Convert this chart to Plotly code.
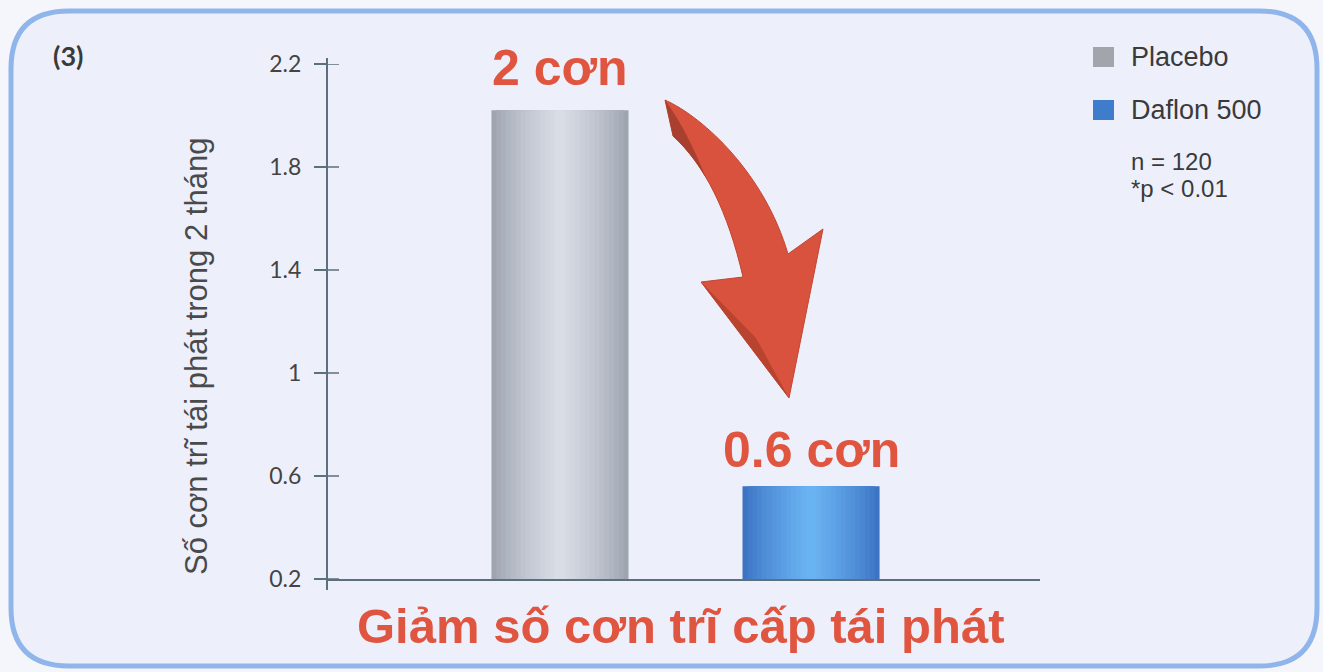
import plotly.graph_objects as go

# ---- data ----
categories = ["Placebo", "Daflon 500"]
values = [2.02, 0.56]
value_labels = ["2 cơn", "0.6 cơn"]
y_ticks = [0.2, 0.6, 1, 1.4, 1.8, 2.2]
y_title = "Số cơn trĩ tái phát trong 2 tháng"
x_title = "Giảm số cơn trĩ cấp tái phát"
panel_label = "(3)"
notes = ["n = 120", "*p < 0.01"]

W, H = 1323, 672
L, R, T, B = 327, 1040, 64, 579  # plot area in pixels

def px(x):
    return (x - L) / (R - L)

def py(y):
    return (B - y) / (B - T)

def hexmix(c1, c2, t):
    a = [int(c1[i:i + 2], 16) for i in (1, 3, 5)]
    b = [int(c2[i:i + 2], 16) for i in (1, 3, 5)]
    return "#" + "".join(f"{round(a[k] + (b[k] - a[k]) * t):02x}" for k in range(3))

edge_cols = ["#9ea4b0", "#3c73c3"]
center_cols = ["#d9dde6", "#6ab3f2"]
legend_cols = ["#a2a6ac", "#3f7ccb"]
red = "#e0553f"
label_shift = [12, 6]

fig = go.Figure()
bar_w = 0.546
n_layers = 14
for k in range(n_layers):
    t = k / (n_layers - 1)
    w = bar_w * (1 - t * 0.92)
    for i, cat in enumerate(categories):
        fig.add_trace(go.Bar(
            x=[i], y=[values[i] - 0.2], base=0.2, width=w,
            marker=dict(color=hexmix(edge_cols[i], center_cols[i], t ** 0.8), line=dict(width=0)),
            showlegend=False, hoverinfo="skip", name=cat,
        ))

shapes = []

def rrect(x0, y0, x1, y1, r):
    return (f"M {px(x0+r)},{py(y0)} L {px(x1-r)},{py(y0)} "
            f"Q {px(x1)},{py(y0)} {px(x1)},{py(y0+r)} L {px(x1)},{py(y1-r)} "
            f"Q {px(x1)},{py(y1)} {px(x1-r)},{py(y1)} L {px(x0+r)},{py(y1)} "
            f"Q {px(x0)},{py(y1)} {px(x0)},{py(y1-r)} L {px(x0)},{py(y0+r)} "
            f"Q {px(x0)},{py(y0)} {px(x0+r)},{py(y0)} Z")

shapes.append(dict(type="path", xref="paper", yref="paper", path=rrect(11, 11, 1317, 666, 58),
                   fillcolor="#edf0fb", line=dict(color="#8fb5ea", width=5), layer="below"))

axis_col = "#5b6f7c"
shapes.append(dict(type="line", xref="paper", yref="paper", x0=px(327), x1=px(327), y0=py(58), y1=py(590),
                   line=dict(color=axis_col, width=2)))
for v in y_ticks:
    shapes.append(dict(type="line", xref="paper", yref="y", x0=px(327), x1=px(339), y0=v, y1=v,
                       line=dict(color=axis_col, width=1.5)))

def P(x, y):
    return f"{px(x)},{py(y)}"

arrow = (f"M {P(665,100)} C {P(705,118)} {P(765,175)} {P(788,254)} L {P(823,229)} L {P(789,398)} "
         f"L {P(701,282)} L {P(743,277)} C {P(728,212)} {P(705,165)} {P(673,136)} Z")
shapes.append(dict(type="path", xref="paper", yref="paper", path=arrow,
                   fillcolor="#d9523d", line=dict(color="#c04632", width=1)))
face1 = f"M {P(665,100)} L {P(673,136)} C {P(690,152)} {P(700,168)} {P(706,178)} C {P(695,150)} {P(680,120)} {P(665,100)} Z"
shapes.append(dict(type="path", xref="paper", yref="paper", path=face1,
                   fillcolor="#a9402f", line=dict(width=0)))
face2 = f"M {P(701,282)} L {P(789,398)} L {P(756,338)} Z"
shapes.append(dict(type="path", xref="paper", yref="paper", path=face2,
                   fillcolor="#b8432f", line=dict(width=0)))

for i, cat in enumerate(categories):
    yc = 57 + 53 * i
    shapes.append(dict(type="rect", xref="paper", yref="paper", x0=px(1093), x1=px(1114),
                       y0=py(yc - 10), y1=py(yc + 10), fillcolor=legend_cols[i], line=dict(width=0)))

annotations = []
txt_font = "Liberation Sans, Arial"
for i, cat in enumerate(categories):
    annotations.append(dict(x=px(1129), y=py(57 + 53 * i), xref="paper", yref="paper", text=cat,
                            showarrow=False, xanchor="left", yanchor="middle",
                            font=dict(family=txt_font, size=27, color="#3a3a3a")))
for j, note in enumerate(notes):
    annotations.append(dict(x=px(1129), y=py(161 + 27 * j), xref="paper", yref="paper", text=note,
                            showarrow=False, xanchor="left", yanchor="middle",
                            font=dict(family=txt_font, size=24, color="#3a3a3a")))
annotations.append(dict(x=px(68), y=py(56), xref="paper", yref="paper", text=f"<b>{panel_label}</b>",
                        showarrow=False, xanchor="center", yanchor="middle",
                        font=dict(family="Lato, Liberation Sans", size=27, color="#3a3a3a")))
for i, lab in enumerate(value_labels):
    annotations.append(dict(x=i, y=values[i], xref="x", yref="y", text=f"<b>{lab}</b>",
                            showarrow=False, xanchor="center", yanchor="bottom", yshift=label_shift[i],
                            font=dict(family=txt_font, size=50, color=red)))
annotations.append(dict(x=px(680), y=py(626), xref="paper", yref="paper", text=f"<b>{x_title}</b>",
                        showarrow=False, xanchor="center", yanchor="middle",
                        font=dict(family=txt_font, size=49, color=red)))
annotations.append(dict(x=px(196), y=py(357), xref="paper", yref="paper", text=y_title, textangle=-90,
                        showarrow=False, xanchor="center", yanchor="middle",
                        font=dict(family=txt_font, size=31, color="#4a4a4a")))

fig.update_layout(
    width=W, height=H,
    margin=dict(l=L, r=W - R, t=T, b=H - B, pad=0),
    paper_bgcolor="#f4f6fc", plot_bgcolor="rgba(0,0,0,0)",
    barmode="overlay", showlegend=False,
    shapes=shapes, annotations=annotations,
    xaxis=dict(range=[-0.928, 1.912], showticklabels=False, showgrid=False, zeroline=False,
               showline=True, linecolor=axis_col, linewidth=2, ticks=""),
    yaxis=dict(range=[0.2, 2.2], tickvals=y_ticks, showgrid=False, zeroline=False, showline=False,
               ticks="outside", ticklen=12, tickwidth=1.5, tickcolor=axis_col,
               ticklabelstandoff=8,
               tickfont=dict(family="Lato, Carlito, Liberation Sans", size=23, color="#444444")),
)

fig.write_html("out.html")
